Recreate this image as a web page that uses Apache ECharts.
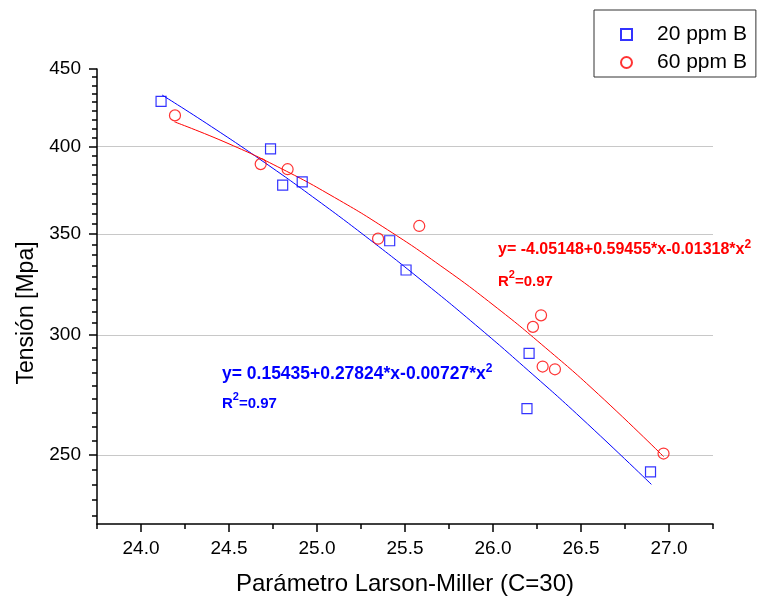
<!DOCTYPE html>
<html>
<head>
<meta charset="utf-8">
<script src="https://cdn.jsdelivr.net/npm/echarts@6/dist/echarts.min.js"></script>
<style>html,body{margin:0;padding:0;background:#fff;}#c{width:778px;height:598px;}</style>
</head>
<body>
<div id="c"></div>
<script>
// ---- data ----
const seriesNames = ['20 ppm B', '60 ppm B'];
const blueX = [24.114, 24.736, 24.805, 24.916, 25.413, 25.506, 26.205, 26.193, 26.895];
const blueY = [428.4, 398.4, 377.0, 378.9, 346.4, 331.3, 291.8, 268.2, 243.6];
const redX = [24.193, 24.680, 24.833, 25.347, 25.581, 26.227, 26.273, 26.282, 26.352, 26.969];
const redY = [419.3, 389.3, 386.3, 347.5, 354.3, 303.8, 309.2, 286.0, 284.8, 250.5];
// fitted curves
const blueFitX = [24.12, 24.4, 24.7, 25.0, 25.3, 25.6, 25.9, 26.2, 26.5, 26.9];
const blueFitY = [432.5, 412.2, 390.4, 368.6, 347.0, 325.7, 304.8, 284.3, 264.5, 239.0];
const redFitX = [24.19, 24.5, 24.8, 25.1, 25.4, 25.7, 26.0, 26.3, 26.6, 26.97];
const redFitY = [415.2, 401.5, 386.5, 370.0, 352.3, 333.6, 314.2, 294.2, 274.1, 249.3];
// tick labels
const xTicks = [24.0, 24.5, 25.0, 25.5, 26.0, 26.5, 27.0];
const xMinorTicks = [23.75, 24.25, 24.75, 25.25, 25.75, 26.25, 26.75, 27.25];
const yTicks = [250, 300, 350, 400, 450];
const blueEq = 'y= 0.15435+0.27824*x-0.00727*x';
const redEq = 'y= -4.05148+0.59455*x-0.01318*x';
const r2Text = '=0.97';

// minor ticks on the y axis (8 per major interval)
const yMinorTicks = [];
for (let k = 1; k <= 4; k++) yMinorTicks.push(yTicks[0] - k * 50 / 9);
for (let i = 0; i < yTicks.length - 1; i++) {
  for (let k = 1; k <= 8; k++) yMinorTicks.push(yTicks[i] + k * (yTicks[i + 1] - yTicks[i]) / 9);
}

const zip = (a, b) => a.map((v, i) => [v, b[i]]);
const FONT = 'Liberation Sans, Arial, sans-serif';
const BLUE = '#0000ff', RED = '#ff0000';

const chart = echarts.init(document.getElementById('c'), null, {renderer: 'canvas'});

function eqText(eq, color, x, y, fs) {
  return {
    type: 'text', x: x, y: y, z: 10,
    style: {
      text: '{m|' + eq + '}{s|2}',
      textAlign: 'left', verticalAlign: 'middle',
      rich: {
        m: {fontFamily: FONT, fontWeight: 'bold', fontSize: fs, lineHeight: 22, fill: color, verticalAlign: 'middle'},
        s: {fontFamily: FONT, fontWeight: 'bold', fontSize: 12, lineHeight: 11, fill: color, verticalAlign: 'top'}
      }
    }
  };
}
function r2(color, x, y) {
  return {
    type: 'text', x: x, y: y, z: 10,
    style: {
      text: '{m|R}{s|2}{m|' + r2Text + '}',
      textAlign: 'left', verticalAlign: 'middle',
      rich: {
        m: {fontFamily: FONT, fontWeight: 'bold', fontSize: 15, lineHeight: 26, fill: color, verticalAlign: 'middle'},
        s: {fontFamily: FONT, fontWeight: 'bold', fontSize: 11, lineHeight: 10, fill: color, verticalAlign: 'top'}
      }
    }
  };
}

const axisCommon = {
  type: 'value',
  axisLine: {show: true, lineStyle: {color: '#000', width: 1.5}},
  splitLine: {show: false}
};

chart.setOption({
  animation: false,
  backgroundColor: '#fff',
  grid: {left: 97, right: 65, top: 69, bottom: 74, outerBoundsMode: 'none'},
  legend: {
    orient: 'vertical', left: 594, top: 10,
    padding: [14, 9, 4, 26], itemGap: 7,
    itemWidth: 11, itemHeight: 11,
    borderColor: '#333', borderWidth: 1,
    data: seriesNames,
    textStyle: {fontFamily: FONT, fontSize: 21, lineHeight: 20, color: '#000', padding: [0, 0, 0, 20]}
  },
  xAxis: [
    Object.assign({}, axisCommon, {
      min: 23.75, max: 27.25,
      name: 'Parámetro Larson-Miller (C=30)', nameLocation: 'middle', nameGap: 48,
      nameTextStyle: {fontFamily: FONT, fontSize: 24, color: '#000'},
      axisTick: {show: true, customValues: xTicks, length: 8, inside: false, lineStyle: {color: '#000', width: 1.5}},
      axisLabel: {show: true, customValues: xTicks, margin: 15, fontFamily: FONT, fontSize: 19, color: '#000',
        formatter: v => v.toFixed(1)}
    }),
    Object.assign({}, axisCommon, {
      min: 23.75, max: 27.25, position: 'bottom', offset: 0,
      axisLine: {show: false},
      axisTick: {show: true, customValues: xMinorTicks, length: 5, lineStyle: {color: '#000', width: 1.5}},
      axisLabel: {show: false}
    })
  ],
  yAxis: [
    Object.assign({}, axisCommon, {
      type: 'log', logBase: 10, min: 225, max: 450,
      name: 'Tensión [Mpa]', nameLocation: 'middle', nameGap: 58,
      nameTextStyle: {fontFamily: FONT, fontSize: 23, color: '#000', padding: [0, 33, 0, 0]},
      axisTick: {show: true, customValues: yTicks, length: 8, lineStyle: {color: '#000', width: 1.5}},
      axisLabel: {show: true, customValues: yTicks, margin: 16, fontFamily: FONT, fontSize: 19, color: '#000'},
      splitLine: {show: true, lineStyle: {color: ['#c8c8c8', '#c8c8c8', '#c8c8c8', '#c8c8c8', 'rgba(0,0,0,0)'], width: 1}}
    }),
    Object.assign({}, axisCommon, {
      type: 'log', logBase: 10, min: 225, max: 450, position: 'left', offset: 0,
      axisLine: {show: false},
      axisTick: {show: true, customValues: yMinorTicks, length: 5, lineStyle: {color: '#000', width: 1.5}},
      axisLabel: {show: false}
    })
  ],
  series: [
    {
      name: seriesNames[0], type: 'scatter', symbol: 'rect', symbolSize: 10, z: 4,
      itemStyle: {color: 'rgba(255,255,255,0)', borderColor: BLUE, borderWidth: 1.2},
      data: zip(blueX, blueY)
    },
    {
      name: seriesNames[1], type: 'scatter', symbol: 'circle', symbolSize: 11, z: 4,
      itemStyle: {color: 'rgba(255,255,255,0)', borderColor: RED, borderWidth: 1.2},
      data: zip(redX, redY)
    },
    {
      name: 'fit20', type: 'line', smooth: true, showSymbol: false, symbol: 'none', z: 3,
      lineStyle: {color: BLUE, width: 1}, data: zip(blueFitX, blueFitY)
    },
    {
      name: 'fit60', type: 'line', smooth: true, showSymbol: false, symbol: 'none', z: 3,
      lineStyle: {color: RED, width: 1}, data: zip(redFitX, redFitY)
    }
  ],
  graphic: [
    eqText(blueEq, BLUE, 222, 374, 17.5),
    r2(BLUE, 222, 404),
    eqText(redEq, RED, 498, 250, 16),
    r2(RED, 498, 282)
  ]
});
</script>
</body>
</html>
